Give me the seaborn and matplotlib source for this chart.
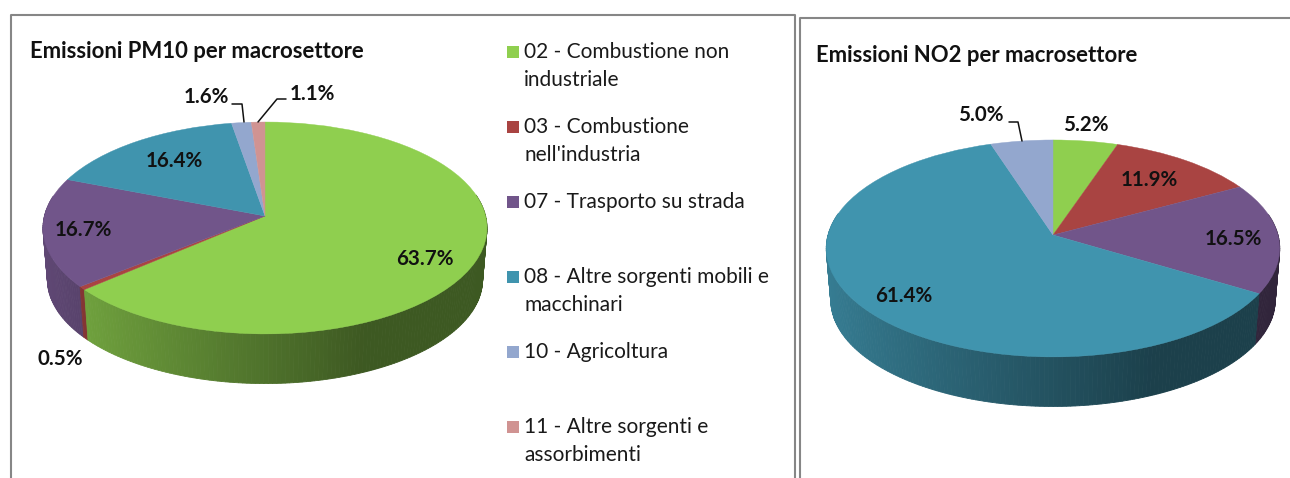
"""
Emissioni PM10 / NO2 per macrosettore - due torte 3D in stile Excel
"""
import matplotlib
matplotlib.use('Agg')
import matplotlib.pyplot as plt
import matplotlib.transforms as mtransforms
import numpy as np
import seaborn as sns

sns.set_theme(style='white')
plt.rcParams['font.family'] = ['Lato', 'DejaVu Sans']

# dati
settori = ['02 - Combustione non\nindustriale', '03 - Combustione\nnell\'industria',
           '07 - Trasporto su strada', '08 - Altre sorgenti mobili e\nmacchinari',
           '10 - Agricoltura', '11 - Altre sorgenti e\nassorbimenti']
pm10 = [63.7, 0.5, 16.7, 16.4, 1.6, 1.1]
no2 = [5.2, 11.9, 16.5, 61.4, 5.0]
colori = sns.color_palette(['#8FCF4F', '#A94442', '#71558A', '#4094AE', '#93A7CE', '#D09392'])


class Prospettiva(mtransforms.Transform):
    """Porta il disco unitario della torta sul piano inclinato, in pixel."""
    input_dims = 2
    output_dims = 2
    is_separable = False

    def __init__(self, cx, cy, rx, ry, k, scala=1.0, giu=0):
        super().__init__()
        self.cx, self.cy, self.rx, self.ry = cx, cy, rx, ry
        self.k, self.scala, self.giu = k, scala, giu

    def transform_non_affine(self, values):
        x, y = np.asarray(values).T
        w = 1 + self.k * y
        return np.column_stack([self.cx + self.scala * self.rx * x / w,
                                self.cy + self.giu - self.scala * self.ry * y / w])


def torta(ax, valori, cx, cy, rx, ry, k, giu):
    sopra = Prospettiva(cx, cy, rx, ry, k)
    sotto = Prospettiva(cx, cy, rx, ry, k, scala=0.98, giu=giu)

    # fianco del cilindro, a strisce sfumate da sinistra a destra
    strisce = []
    bordi = np.cumsum([0] + valori) / sum(valori) * 2 * np.pi
    for i in range(len(valori)):
        n = max(2, int(valori[i] * 3.6) + 1)
        ang = np.linspace(bordi[i], bordi[i + 1], n)
        for a0, a1 in zip(ang[:-1], ang[1:]):
            p = np.array([[np.sin(a0), np.cos(a0)], [np.sin(a1), np.cos(a1)]])
            if p[:, 1].mean() < 0.2:
                strisce.append((p[:, 1].mean(), p, i))
    strisce.sort(key=lambda s: -s[0])
    for _, p, i in strisce:
        a = sopra.transform_non_affine(p)
        b = sotto.transform_non_affine(p)[::-1]
        luce = np.interp(p[:, 0].mean(), [-1, 0.4, 1], [0.85, 0.43, 0.43])
        c = tuple(np.array(colori[i]) * luce)
        poly = np.vstack([a, b])
        ax.fill(poly[:, 0], poly[:, 1], color=c, lw=0.6, zorder=2)

    # faccia superiore
    wedges, _ = ax.pie(valori, colors=colori[:len(valori)], startangle=90, counterclock=False)
    for w, c in zip(wedges, colori):
        w.set_transform(sopra + ax.transData)
        w.set_edgecolor(c)
        w.set_linewidth(0.3)
        w.set_zorder(3)


fig = plt.figure(figsize=(12.9, 4.78), dpi=100)
ax = fig.add_axes([0, 0, 1, 1])

torta(ax, pm10, 265, 216, 220.6, 104.6, 0.113, 52)
torta(ax, no2, 1053, 235, 225, 106.8, 0.124, 52)

ax.set_aspect('auto')
ax.set_xlim(0, 1290)
ax.set_ylim(478, 0)
ax.axis('off')

# cornici dei due riquadri
grigio = '#868686'
ax.plot([11, 11, 795, 795], [478, 15, 15, 478], color=grigio, lw=1.5, zorder=1)
ax.plot([800, 800, 1290], [478, 18, 18], color=grigio, lw=1.5, zorder=1)

# titoli
ax.text(30, 51, 'Emissioni PM10 per macrosettore', fontsize=15.9, fontweight='bold',
        color='#111111', va='center', zorder=5)
ax.text(816, 55, 'Emissioni NO2 per macrosettore', fontsize=15.9, fontweight='bold',
        color='#111111', va='center', zorder=5)

# etichette percentuali
pos_pm10 = [(425, 259), (60, 359), (83, 230), (174, 161), (206, 97), (312, 94)]
pos_no2 = [(1086, 125), (1149, 180), (1233, 239), (904, 296), (981, 115)]
for valori, posizioni in ((pm10, pos_pm10), (no2, pos_no2)):
    for v, (x, y) in zip(valori, posizioni):
        ax.text(x, y, f'{v:.1f}%', fontsize=14.8, fontweight='bold', color='#111111',
                ha='center', va='center', zorder=5)

# linee guida
for xs, ys in (([232, 242, 244], [104, 104, 122]),
               ([286, 277, 258], [99, 99, 122]),
               ([1009, 1018, 1022], [122, 122, 141])):
    ax.plot(xs, ys, color='#111111', lw=1.1, zorder=4)

# legenda a mano: le righe sono a passo fisso come nell'originale
y_leg = [52, 127, 202, 277, 352, 427]
for nome, c, y in zip(settori, colori, y_leg):
    ax.scatter([512.5], [y], marker='s', s=85, color=c, linewidths=0, zorder=5)
    for j, riga in enumerate(nome.split('\n')):
        ax.text(524, y + j * 28, riga, fontsize=15, color='#1a1a1a', va='center', zorder=5)

fig.savefig('out.png', dpi=100, facecolor='white')
plt.close(fig)
